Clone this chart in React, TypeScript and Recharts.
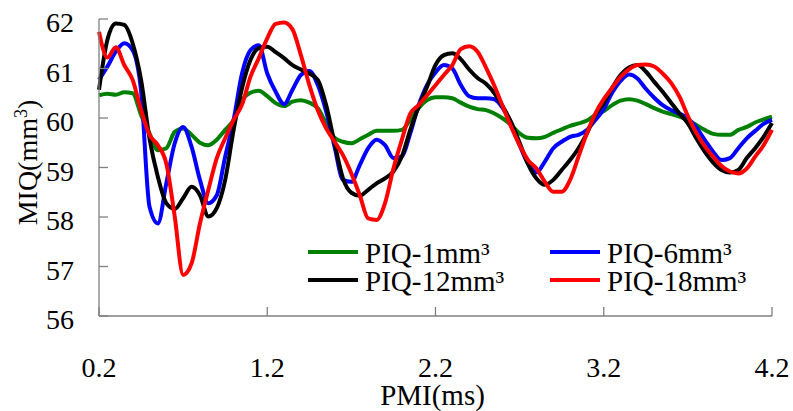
import React from 'react';
import { LineChart, Line, XAxis, YAxis, Legend } from 'recharts';

// PMI (ms) sample positions
const pmi = [
  0.2, 0.25, 0.3, 0.35, 0.4, 0.45, 0.5, 0.55, 0.6, 0.65, 0.7, 0.75, 0.8, 0.85, 0.9, 0.95,
  1.0, 1.05, 1.1, 1.15, 1.2, 1.25, 1.3, 1.35, 1.4, 1.45, 1.5, 1.55, 1.6, 1.65, 1.7, 1.75,
  1.8, 1.85, 1.9, 1.95, 2.0, 2.05, 2.1, 2.15, 2.2, 2.25, 2.3, 2.35, 2.4, 2.45, 2.5, 2.55,
  2.6, 2.65, 2.7, 2.75, 2.8, 2.85, 2.9, 2.95, 3.0, 3.05, 3.1, 3.15, 3.2, 3.25, 3.3, 3.35,
  3.4, 3.45, 3.5, 3.55, 3.6, 3.65, 3.7, 3.75, 3.8, 3.85, 3.9, 3.95, 4.0, 4.05, 4.1, 4.15, 4.2,
];

// MIQ (mm³) for PIQ-1mm³
const piq1 = [
  60.46, 60.49, 60.47, 60.52, 60.5, 60.06, 59.69, 59.35, 59.39, 59.72, 59.79, 59.66, 59.5, 59.45, 59.56, 59.76,
  59.96, 60.36, 60.51, 60.55, 60.44, 60.3, 60.24, 60.33, 60.36, 60.31, 60.2, 59.89, 59.6, 59.52, 59.49, 59.57,
  59.66, 59.74, 59.74, 59.74, 59.76, 59.96, 60.2, 60.36, 60.42, 60.42, 60.4, 60.31, 60.23, 60.18, 60.16, 60.09,
  59.99, 59.86, 59.69, 59.6, 59.59, 59.62, 59.7, 59.77, 59.84, 59.89, 59.95, 60.06, 60.14, 60.26, 60.35, 60.38,
  60.35, 60.28, 60.2, 60.13, 60.08, 60.03, 59.96, 59.86, 59.76, 59.68, 59.66, 59.66, 59.76, 59.82, 59.91, 59.97, 60.03,
];

// MIQ (mm³) for PIQ-6mm³
const piq6 = [
  60.77, 61.04, 61.34, 61.51, 61.37, 60.55, 58.21, 57.87, 58.68, 59.49, 59.82, 59.42, 58.75, 58.28, 58.44, 59.22,
  59.96, 60.9, 61.37, 61.47, 60.9, 60.53, 60.28, 60.57, 60.87, 60.95, 60.67, 60.13, 59.42, 58.75, 58.71, 59.05,
  59.39, 59.56, 59.45, 59.19, 59.22, 59.69, 60.26, 60.67, 60.92, 61.07, 61.0, 60.67, 60.44, 60.4, 60.4, 60.38,
  60.2, 59.89, 59.45, 59.08, 58.9, 59.12, 59.39, 59.52, 59.62, 59.66, 59.76, 59.96, 60.18, 60.51, 60.75, 60.88,
  60.8, 60.59, 60.41, 60.26, 60.16, 60.09, 59.99, 59.81, 59.56, 59.32, 59.15, 59.19, 59.39, 59.59, 59.74, 59.88, 59.96,
];

// MIQ (mm³) for PIQ-12mm³
const piq12 = [
  60.57, 61.58, 61.91, 61.88, 61.51, 60.77, 59.59, 58.81, 58.28, 58.16, 58.38, 58.61, 58.44, 58.01, 58.18, 58.75,
  59.76, 60.6, 61.17, 61.41, 61.44, 61.33, 61.21, 61.07, 60.98, 60.9, 60.77, 60.26, 59.49, 58.78, 58.49, 58.43,
  58.55, 58.68, 58.78, 58.92, 59.22, 59.76, 60.23, 60.63, 61.07, 61.27, 61.31, 61.19, 60.98, 60.81, 60.69, 60.5,
  60.23, 59.91, 59.5, 59.07, 58.78, 58.65, 58.75, 58.95, 59.15, 59.39, 59.69, 60.06, 60.3, 60.61, 60.87, 61.02,
  61.07, 60.94, 60.73, 60.53, 60.31, 60.09, 59.89, 59.59, 59.32, 59.1, 58.95, 58.9, 58.95, 59.19, 59.39, 59.62, 59.9,
];

// MIQ (mm³) for PIQ-18mm³
const piq18 = [
  61.74, 61.22, 61.43, 61.07, 60.77, 60.16, 59.66, 59.45, 59.08, 58.01, 56.83, 57.06, 57.87, 58.55, 59.19, 59.59,
  59.96, 60.27, 60.83, 61.21, 61.61, 61.9, 61.93, 61.79, 61.27, 60.67, 60.16, 59.79, 59.52, 59.25, 58.88, 58.44,
  57.97, 57.94, 58.28, 58.98, 59.56, 60.09, 60.26, 60.46, 60.66, 60.87, 61.07, 61.39, 61.45, 61.34, 61.02, 60.65,
  60.23, 59.82, 59.45, 59.15, 58.98, 58.71, 58.51, 58.51, 58.75, 59.22, 59.69, 60.09, 60.38, 60.61, 60.83, 60.98,
  61.07, 61.08, 61.04, 60.9, 60.71, 60.43, 60.04, 59.7, 59.43, 59.22, 59.03, 58.92, 58.88, 58.98, 59.22, 59.45, 59.76,
];

const xTicks = [0.2, 1.2, 2.2, 3.2, 4.2];
const yTicks = [56, 57, 58, 59, 60, 61, 62];
const seriesNames = ['PIQ-1mm³', 'PIQ-6mm³', 'PIQ-12mm³', 'PIQ-18mm³'];
const seriesColors = ['#008000', '#0000ff', '#000000', '#ff0000'];
const seriesKeys = ['s0', 's1', 's2', 's3'];

const data = pmi.map((x, i) => ({ x, s0: piq1[i], s1: piq6[i], s2: piq12[i], s3: piq18[i] }));

const FONT = '"Liberation Serif", "Times New Roman", Times, serif';
const AXIS = '#7f7f7f';

const YTick = (props: any) => {
  const { x, y, payload } = props;
  return (
    <g>
      <line x1={x} x2={x + 9} y1={y} y2={y} stroke={AXIS} strokeWidth={1.3} />
      <text x={x - 25} y={y + 13} textAnchor="end" fontFamily={FONT} fontSize={28} fill="#000">
        {String(payload.value)}
      </text>
    </g>
  );
};

const XTick = (props: any) => {
  const { x, y, payload } = props;
  return (
    <g>
      <line x1={x} x2={x} y1={y} y2={y - 9} stroke={AXIS} strokeWidth={1.3} />
      <text x={x} y={y + 61} textAnchor="middle" fontFamily={FONT} fontSize={28} fill="#000">
        {Number(payload.value).toFixed(1)}
      </text>
    </g>
  );
};

const YTitle = (props: any) => {
  const vb = props.viewBox || { x: 0, y: 19, width: 99, height: 297 };
  const cx = vb.x + 37;
  const cy = vb.y + vb.height / 2 - 5;
  return (
    <text
      transform={`translate(${cx},${cy}) rotate(-90)`}
      textAnchor="middle"
      fontFamily={FONT}
      fontSize={28}
      fill="#000"
    >
      MIQ(mm
      <tspan dy={-10} fontSize={18}>3</tspan>
      <tspan dy={10}>)</tspan>
    </text>
  );
};

const XTitle = (props: any) => {
  const vb = props.viewBox || { x: 99, y: 316, width: 673, height: 95 };
  const cx = vb.x + vb.width / 2 - 3;
  const cy = vb.y + 89;
  return (
    <text x={cx} y={cy} textAnchor="middle" fontFamily={FONT} fontSize={29} fill="#000">
      PMI(ms)
    </text>
  );
};

const LegendContent = () => {
  const colX = [308, 550];
  const rowY = [252, 280];
  return (
    <svg width={793} height={411} style={{ position: 'absolute', left: 0, top: 0, overflow: 'visible' }}>
      {seriesNames.map((name, i) => {
        const lx = colX[i % 2];
        const ly = rowY[Math.floor(i / 2)];
        return (
          <g key={i}>
            <line x1={lx} x2={lx + 50} y1={ly} y2={ly} stroke={seriesColors[i]} strokeWidth={4} />
            <text x={lx + 57} y={ly + 11} fontFamily={FONT} fontSize={29} fill="#000">
              {name}
            </text>
          </g>
        );
      })}
    </svg>
  );
};

export default function App() {
  return (
    <div style={{ position: 'absolute', left: 0, top: 0, width: 793, height: 411, background: '#fff' }}>
      <LineChart width={793} height={411} data={data} margin={{ top: 19, right: 21, bottom: 0, left: 0 }}>
        <XAxis
          dataKey="x"
          type="number"
          domain={[0.2, 4.2]}
          ticks={xTicks}
          interval={0}
          height={95}
          tickSize={0}
          tickMargin={0}
          tickLine={false}
          tick={<XTick />}
          axisLine={{ stroke: AXIS, strokeWidth: 1.3 }}
          label={<XTitle />}
        />
        <YAxis
          type="number"
          domain={[56, 62]}
          ticks={yTicks}
          interval={0}
          width={99}
          tickSize={0}
          tickMargin={0}
          tickLine={false}
          tick={<YTick />}
          axisLine={{ stroke: AXIS, strokeWidth: 1.3 }}
          label={<YTitle />}
        />
        <Legend
          layout="horizontal"
          verticalAlign="middle"
          align="center"
          wrapperStyle={{ left: 0, top: 0, width: 793, height: 411, pointerEvents: 'none' }}
          content={<LegendContent />}
        />
        {seriesKeys.map((k, i) => (
          <Line
            key={k}
            type="monotone"
            dataKey={k}
            name={seriesNames[i]}
            stroke={seriesColors[i]}
            strokeWidth={4}
            strokeLinejoin="round"
            dot={false}
            activeDot={false}
            isAnimationActive={false}
          />
        ))}
      </LineChart>
    </div>
  );
}
